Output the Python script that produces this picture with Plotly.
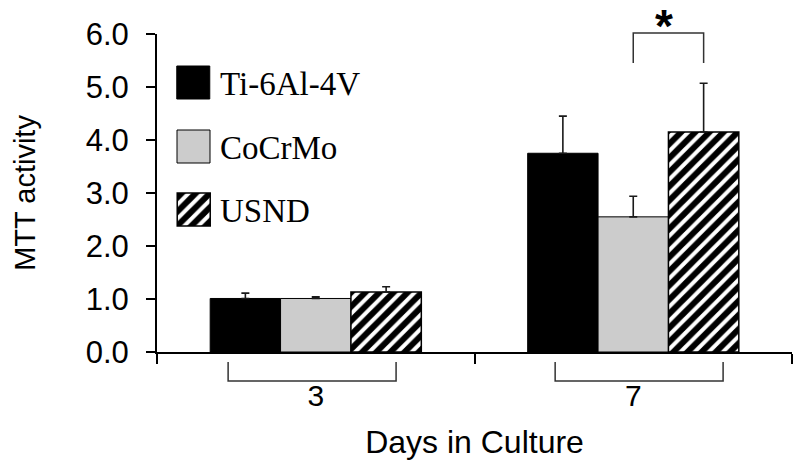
import plotly.graph_objects as go

# ---- data ----
days = ["3", "7"]
series_names = ["Ti-6Al-4V", "CoCrMo", "USND"]
ti_values = [1.01, 3.75]
ti_errors = [0.10, 0.70]
cocrmo_values = [1.01, 2.55]
cocrmo_errors = [0.03, 0.39]
usnd_values = [1.13, 4.15]
usnd_errors = [0.10, 0.92]
y_tick_values = [0, 1, 2, 3, 4, 5, 6]
y_tick_labels = ["0.0", "1.0", "2.0", "3.0", "4.0", "5.0", "6.0"]

# ---- styles ----
W, H = 800, 474
ML, MR, MT, MB = 157, 8, 34, 122
sans = "Liberation Sans, Arial, sans-serif"
serif = "Liberation Serif, Times New Roman, serif"
styles = [
    dict(color="#000000", line=dict(color="#000000", width=1)),
    dict(color="#cccccc", line=dict(color="#000000", width=1)),
    dict(color="#ffffff", line=dict(color="#000000", width=1.5),
         pattern=dict(shape="/", fgcolor="#000000", bgcolor="#ffffff", fgopacity=1,
                      size=10, solidity=0.6, fillmode="overlay")),
]
values = [ti_values, cocrmo_values, usnd_values]
errors = [ti_errors, cocrmo_errors, usnd_errors]

fig = go.Figure()
for name, vals, errs, st in zip(series_names, values, errors, styles):
    fig.add_trace(go.Bar(
        x=days, y=vals, name=name, marker=st, showlegend=False,
        error_y=dict(type="data", array=errs, arrayminus=[0] * len(errs),
                     symmetric=False, color="#1a1a1a", thickness=1.6, width=4),
    ))

# ---- legend swatches on an overlay axis in pixel units ----
sw_left, sw_size, sw_tops = 177, 33, [66, 130, 193]
for name, st, top in zip(series_names, styles, sw_tops):
    fig.add_trace(go.Bar(
        x=[sw_left + sw_size / 2], y=[sw_size], base=[top], width=[sw_size],
        marker=st, xaxis="x2", yaxis="y2", showlegend=False, hoverinfo="skip",
    ))
    fig.add_annotation(x=sw_left + sw_size + 8, y=top + sw_size / 2 + 1,
                       xref="x2", yref="y2", text=name, showarrow=False,
                       xanchor="left", yanchor="middle",
                       font=dict(family=serif, size=33, color="#000"))

# ---- group brackets below the axis ----
group_brackets = [(-0.276, 0.253), (-0.246, 0.283)]
y_top_px, y_bot_px = 362, 381
plot_h = H - MT - MB


def paper_y(px):
    return (H - MB - px) / plot_h


for i, (a, b) in enumerate(group_brackets):
    y0, y1 = paper_y(y_top_px), paper_y(y_bot_px)
    fig.add_shape(type="path", xref="x", yref="paper",
                  path=f"M {i + a} {y0} L {i + a} {y1} L {i + b} {y1} L {i + b} {y0}",
                  line=dict(color="#333", width=1.5))

# ---- significance bracket between CoCrMo and USND on day 7 ----
bar_w = (1 - 0.335) / 3
sb0, sb1 = paper_y(63), paper_y(33)
fig.add_shape(type="path", xref="x", yref="paper",
              path=f"M {1 + 0.0} {sb0} L {1 + 0.0} {sb1} L {1 + bar_w} {sb1} L {1 + bar_w} {sb0}",
              line=dict(color="#333", width=1.5))
fig.add_annotation(x=1 + bar_w / 2 - 0.015, y=sb1, xref="x", yref="paper", text="<b>*</b>",
                   showarrow=False, yanchor="bottom", yshift=-21,
                   font=dict(family=sans, size=46, color="#000"))

fig.update_layout(
    width=W, height=H, margin=dict(l=ML, r=MR, t=MT, b=MB, autoexpand=False),
    paper_bgcolor="white", plot_bgcolor="white",
    barmode="group", bargap=0.335, bargroupgap=0,
    showlegend=False,
    xaxis=dict(type="category", range=[-0.5, 1.5], tickson="boundaries",
               ticks="outside", ticklen=10, tickwidth=2, tickcolor="#000",
               showline=True, linecolor="#000", linewidth=2, showgrid=False,
               zeroline=False, ticklabelstandoff=16,
               tickfont=dict(family=sans, size=30, color="#000"),
               title=dict(text="Days in Culture", standoff=20,
                          font=dict(family=sans, size=32, color="#000"))),
    yaxis=dict(range=[0, 6], tickvals=y_tick_values, ticktext=y_tick_labels,
               ticks="outside", ticklen=9, tickwidth=2, tickcolor="#000",
               showline=True, linecolor="#000", linewidth=2, showgrid=False,
               zeroline=False, ticklabelstandoff=11,
               tickfont=dict(family=sans, size=31, color="#000"),
               title=dict(text="MTT activity", standoff=42,
                          font=dict(family=sans, size=29, color="#000"))),
    xaxis2=dict(domain=[0, 1], range=[ML, W - MR], overlaying="x",
                visible=False, fixedrange=True),
    yaxis2=dict(domain=[0, 1], range=[H - MB, MT], overlaying="y",
                visible=False, fixedrange=True),
)

fig.write_html("out.html", config={"displayModeBar": False},
               post_script="document.body.style.margin='0';")
